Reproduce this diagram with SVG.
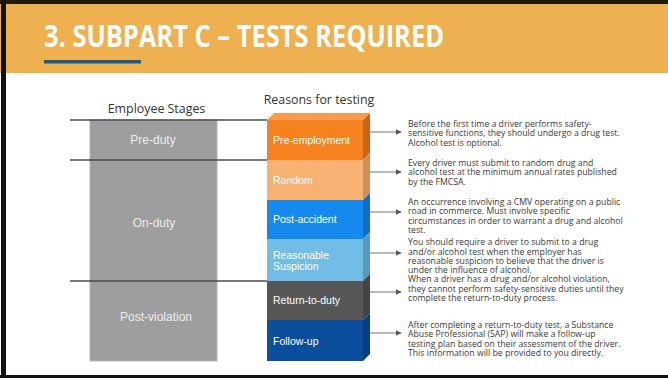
<svg xmlns="http://www.w3.org/2000/svg" width="668" height="378" viewBox="0 0 668 378">
<defs>
<style>
.hdr{font-family:"Open Sans","Liberation Sans",sans-serif;font-size:12.4px;fill:#333;text-anchor:middle}
.stage{font-family:"Liberation Sans",Arial,sans-serif;font-size:12px;fill:#ececec;text-anchor:middle}
.rs{font-family:"Liberation Sans",Arial,sans-serif;font-size:10.5px;fill:#fff}
.desc{font-family:"Open Sans","Liberation Sans",sans-serif;font-size:8.7px;fill:#3a3a3a}
.sep{stroke:#4a4a4a;stroke-width:1.5;fill:none}
.arr{stroke:#8a8a8a;stroke-width:1.2;fill:none;marker-end:url(#ah)}
</style>
<marker id="ah" viewBox="0 0 10 10" refX="9" refY="5" markerWidth="6" markerHeight="6" markerUnits="userSpaceOnUse" orient="auto">
<path d="M0,0 L10,5 L0,10 z" fill="#555"/>
</marker>
</defs>
<rect x="0" y="0" width="668" height="378" fill="#fff"/>
<g id="banner">
<rect x="0" y="0" width="668" height="73" fill="#efb04f"/>
<text x="44" y="47" font-family="Open Sans, Liberation Sans, sans-serif" font-weight="700" font-size="30" fill="#fff" textLength="400" lengthAdjust="spacingAndGlyphs">3. SUBPART C – TESTS REQUIRED</text>
<rect x="44" y="60" width="97" height="3.5" fill="#1f5a80"/>
</g>
<g id="frame">
<rect x="0" y="0" width="668" height="4" fill="#231a0c"/>
<rect x="1" y="0" width="5" height="378" fill="#111"/>
<rect x="0" y="375" width="668" height="3" fill="#111"/>
</g>
<text class="hdr" x="156.5" y="113">Employee Stages</text>
<text class="hdr" x="319" y="104">Reasons for testing</text>
<g id="stages">
<rect x="90" y="120" width="127" height="241" fill="#9e9e9e" stroke="#b3b3b3" stroke-width="1"/>
<text class="stage" x="153" y="144">Pre-duty</text>
<text class="stage" x="154" y="227">On-duty</text>
<text class="stage" x="156" y="321">Post-violation</text>
</g>
<g id="connectors">
<line class="sep" x1="70" y1="120" x2="267" y2="120"/>
<line class="sep" x1="70" y1="160" x2="267" y2="160"/>
<line class="sep" x1="70" y1="281" x2="267" y2="281"/>
<line class="arr" x1="370" y1="132" x2="401" y2="132"/>
<line class="arr" x1="370" y1="172" x2="401" y2="172"/>
<line class="arr" x1="370" y1="212" x2="401" y2="212"/>
<line class="arr" x1="370" y1="253" x2="401" y2="253"/>
<line class="arr" x1="370" y1="292" x2="401" y2="292"/>
<line class="arr" x1="370" y1="333" x2="401" y2="333"/>
</g>
<g id="pre-employment">
<polygon points="267,120 274,113 370,113 363,120" fill="#f89c4c"/>
<rect x="267" y="120" width="96" height="40" fill="#f5821f"/>
<polygon points="363,120 370,113 370,153 363,160" fill="#c8661a"/>
<text class="rs" x="273" y="144">Pre-employment</text>
</g>
<g id="random">
<rect x="267" y="160" width="96" height="40" fill="#f7b273"/>
<polygon points="363,160 370,153 370,193 363,200" fill="#c98f5c"/>
<text class="rs" x="273" y="184">Random</text>
</g>
<g id="post-accident">
<rect x="267" y="200" width="96" height="39" fill="#1689ef"/>
<polygon points="363,200 370,193 370,232 363,239" fill="#136ec0"/>
<text class="rs" x="273" y="223">Post-accident</text>
</g>
<g id="reasonable-suspicion">
<rect x="267" y="239" width="96" height="42" fill="#71bde6"/>
<polygon points="363,239 370,232 370,274 363,281" fill="#5a98b8"/>
<text class="rs" x="273" y="259">Reasonable</text>
<text class="rs" x="273" y="270">Suspicion</text>
</g>
<g id="return-to-duty">
<rect x="267" y="281" width="96" height="39" fill="#575757"/>
<polygon points="363,281 370,274 370,313 363,320" fill="#444"/>
<text class="rs" x="273" y="304">Return-to-duty</text>
</g>
<g id="follow-up">
<rect x="267" y="320" width="96" height="41" fill="#0b4f9c"/>
<polygon points="363,320 370,313 370,354 363,361" fill="#083e7a"/>
<text class="rs" x="273" y="344.5">Follow-up</text>
</g>
<g id="descriptions">
<text class="desc" x="408" y="126.5">Before the first time a driver performs safety-</text>
<text class="desc" x="408" y="136">sensitive functions, they should undergo a drug test.</text>
<text class="desc" x="408" y="145.5">Alcohol test is optional.</text>
<text class="desc" x="408" y="166">Every driver must submit to random drug and</text>
<text class="desc" x="408" y="175">alcohol test at the minimum annual rates published</text>
<text class="desc" x="408" y="184.5">by the FMCSA.</text>
<text class="desc" x="408" y="205">An occurrence involving a CMV operating on a public</text>
<text class="desc" x="408" y="214">road in commerce. Must involve specific</text>
<text class="desc" x="408" y="223.5">circumstances in order to warrant a drug and alcohol</text>
<text class="desc" x="408" y="232.5">test.</text>
<text class="desc" x="408" y="245">You should require a driver to submit to a drug</text>
<text class="desc" x="408" y="254.5">and/or alcohol test when the employer has</text>
<text class="desc" x="408" y="264">reasonable suspicion to believe that the driver is</text>
<text class="desc" x="408" y="272.5">under the influence of alcohol.</text>
<text class="desc" x="408" y="282">When a driver has a drug and/or alcohol violation,</text>
<text class="desc" x="408" y="291.5">they cannot perform safety-sensitive duties until they</text>
<text class="desc" x="408" y="301">complete the return-to-duty process.</text>
<text class="desc" x="408" y="327.5">After completing a return-to-duty test, a Substance</text>
<text class="desc" x="408" y="337">Abuse Professional (SAP) will make a follow-up</text>
<text class="desc" x="408" y="346.5">testing plan based on their assessment of the driver.</text>
<text class="desc" x="408" y="356">This information will be provided to you directly.</text>
</g>
</svg>
